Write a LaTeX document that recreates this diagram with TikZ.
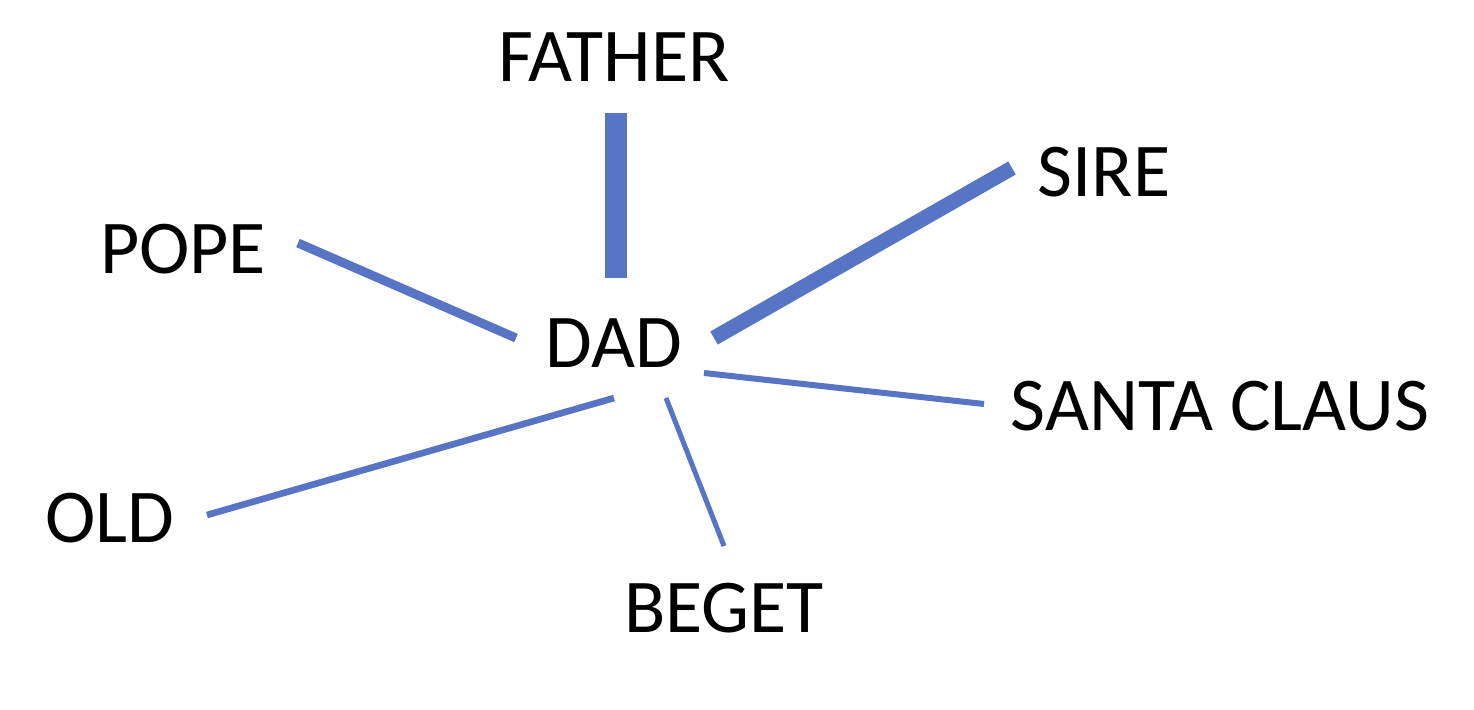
\documentclass[tikz,border=0pt]{standalone}
\usepackage{fontspec}
\setmainfont{Carlito}
\definecolor{lk}{RGB}{88,116,196}
\begin{document}
\begin{tikzpicture}[x=0.5pt,y=-0.5pt,
  word/.style={font=\fontsize{38}{40}\selectfont, inner sep=0pt},
  link/.style={draw=lk}]
\useasboundingbox (0,0) rectangle (1474,709);
\node[word] (father) at (614,57) {FATHER};
\node[word] (sire) at (1104,172) {SIRE};
\node[word] (pope) at (183,249) {POPE};
\node[word] (dad) at (614,343) {DAD};
\node[word] (santa) at (1220,406) {SANTA CLAUS};
\node[word] (old) at (110,518) {OLD};
\node[word] (beget) at (724,608) {BEGET};
\coordinate (f1) at (616,113); \coordinate (f2) at (616,278);
\coordinate (s1) at (1012,168); \coordinate (s2) at (714,338);
\coordinate (p1) at (298,243); \coordinate (p2) at (516,338);
\coordinate (c1) at (704,373); \coordinate (c2) at (984,404);
\coordinate (o1) at (207,515); \coordinate (o2) at (614,398);
\coordinate (b1) at (666,398); \coordinate (b2) at (724,546);
\draw[link, line width=11pt] (f1) -- (f2);
\draw[link, line width=7.5pt] (s1) -- (s2);
\draw[link, line width=4.5pt] (p1) -- (p2);
\draw[link, line width=3pt] (c1) -- (c2);
\draw[link, line width=3.3pt] (o1) -- (o2);
\draw[link, line width=2.5pt] (b1) -- (b2);
\end{tikzpicture}
\end{document}
